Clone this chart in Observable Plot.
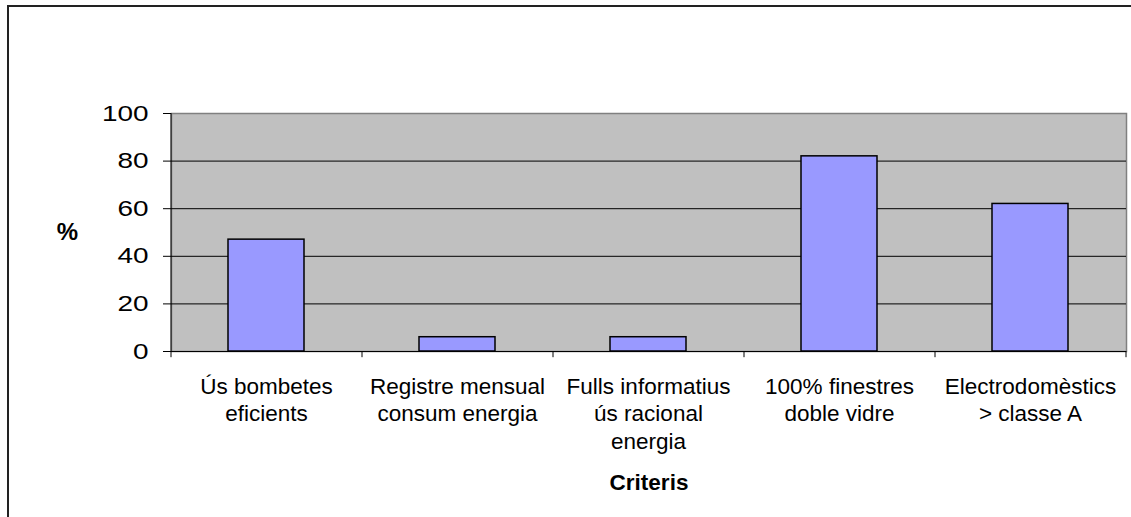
<!DOCTYPE html>
<html><head><meta charset="utf-8">
<script src="https://cdn.jsdelivr.net/npm/d3@7"></script>
<script src="https://cdn.jsdelivr.net/npm/@observablehq/plot@0.6"></script>
<style>
html,body{margin:0;padding:0;background:#fff;overflow:hidden}
#wrap{position:relative;width:1131px;height:517px;overflow:hidden}
#border{position:absolute;left:7px;top:5px;width:2000px;height:2000px;border-left:2px solid #222;border-top:2px solid #222;pointer-events:none}
</style></head><body><div id="wrap"><div id="chart"></div><div id="border"></div></div>
<script>
const categories = ["Ús bombetes eficients","Registre mensual consum energia","Fulls informatius ús racional energia","100% finestres doble vidre","Electrodomèstics > classe A"];
const tickLabels = ["Ús bombetes\neficients","Registre mensual\nconsum energia","Fulls informatius\nús racional\nenergia","100% finestres\ndoble vidre","Electrodomèstics\n> classe A"];
const values = [47, 6, 6, 82, 62];
const yTicks = [0, 20, 40, 60, 80, 100];
const xTitle = "Criteris";
const yTitle = "%";

const data = categories.map((c, i) => ({category: c, value: values[i]}));
const labelOf = new Map(categories.map((c, i) => [c, tickLabels[i]]));
const W = 1131, H = 517, mL = 171, mR = 5, mT = 113, mB = 166;
const step = (W - mL - mR) / categories.length;

const chart = Plot.plot({
  width: W, height: H, marginLeft: mL, marginRight: mR, marginTop: mT, marginBottom: mB,
  style: {fontFamily: "'Liberation Sans', Arial, sans-serif", background: "#fff", color: "#000"},
  x: {domain: categories, paddingInner: 0.6, paddingOuter: 0.3},
  y: {domain: [0, 100]},
  marks: [
    Plot.frame({fill: "#C0C0C0", stroke: "#808080", strokeWidth: 1.5}),
    Plot.ruleY(yTicks.filter(t => t > 0 && t < 100), {stroke: "#000", strokeWidth: 1}),
    Plot.barY(data, {x: "category", y: "value", fill: "#9999FF", stroke: "#000", strokeWidth: 1.5}),
    Plot.ruleY([0], {stroke: "#000", strokeWidth: 1}),
    Plot.ruleX([categories[0]], {y1: 0, y2: 100, dx: -step / 2, stroke: "#000"}),
    Plot.ruleX(categories, {y1: 0, y2: -2.6, dx: -step / 2, stroke: "#000"}),
    Plot.ruleX([categories[categories.length - 1]], {y1: 0, y2: -2.6, dx: step / 2, stroke: "#000"}),
    Plot.axisY({ticks: yTicks, tickSize: 8, tickPadding: 15, fontSize: 22, label: null, stroke: "#000"}),
    Plot.axisX({tickSize: 0, tickPadding: 23, fontSize: 22.5, lineHeight: 1.22, tickFormat: d => labelOf.get(d), label: null}),
    Plot.text([{t: yTitle, v: 50}], {text: "t", y: "v", frameAnchor: "left", textAnchor: "middle", dx: -104, fontSize: 24, fontWeight: "bold"}),
    Plot.text([xTitle], {frameAnchor: "bottom", textAnchor: "middle", lineAnchor: "middle", dy: 131, fontSize: 22.5, fontWeight: "bold"})
  ]
});
document.getElementById("chart").appendChild(chart);

// Reference y tick labels are horizontally stretched
chart.querySelectorAll('g[aria-label="y-axis tick label"] text').forEach(t => {
  let tr = t.getAttribute("transform") || "";
  const x = t.getAttribute("x"), y = t.getAttribute("y");
  if (!/translate/.test(tr) && (x || y)) {
    tr = `translate(${x || 0},0)`;
    t.removeAttribute("x");
  }
  t.setAttribute("transform", tr + " scale(1.27,1)");
});
</script></body></html>
